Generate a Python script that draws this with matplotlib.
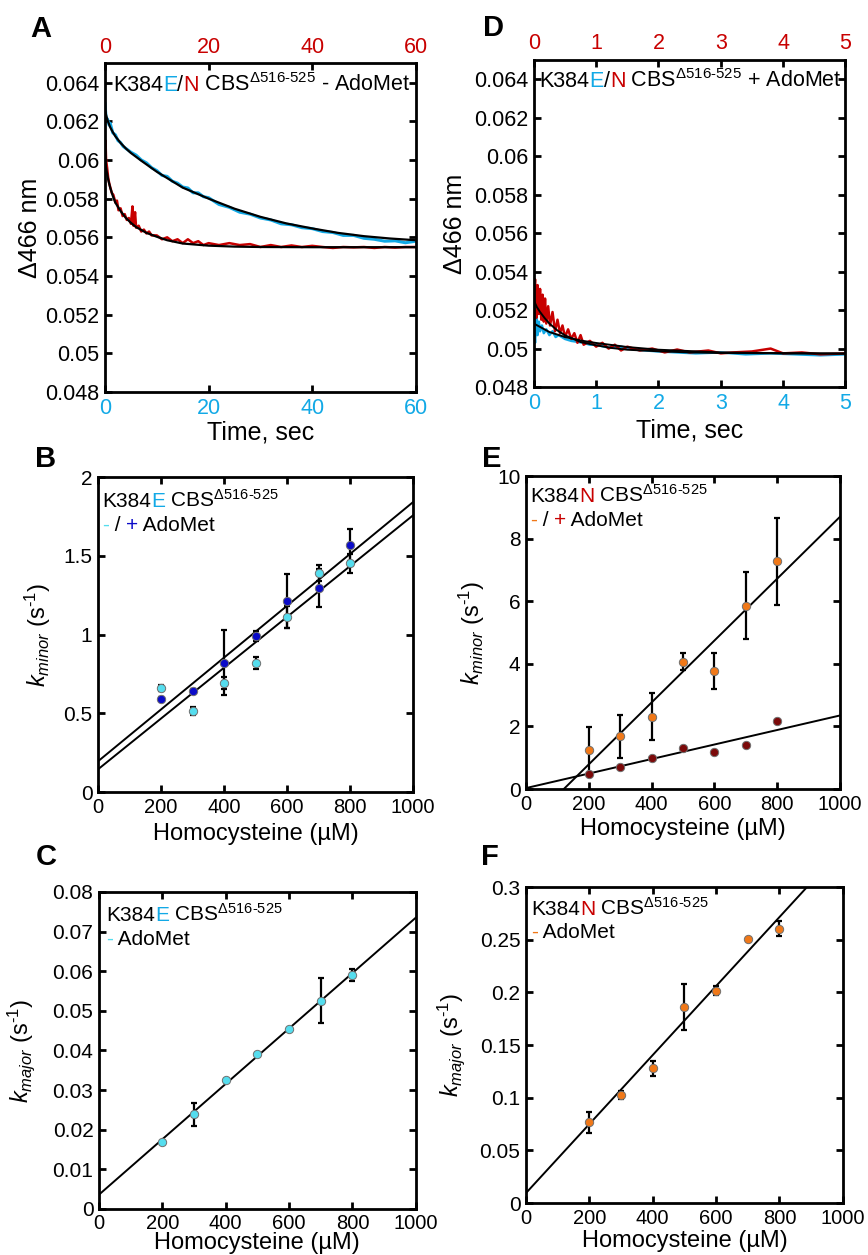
import numpy as np
import matplotlib
matplotlib.use("Agg")
import matplotlib.pyplot as plt
from matplotlib.ticker import FuncFormatter

plt.rcParams['font.family'] = 'Liberation Sans'
plt.rcParams['mathtext.fontset'] = 'custom'
plt.rcParams['mathtext.rm'] = 'Liberation Sans'
plt.rcParams['mathtext.it'] = 'Liberation Sans:italic'
plt.rcParams['mathtext.bf'] = 'Liberation Sans:bold'
plt.rcParams['axes.unicode_minus'] = False

BLUE = '#12A9E6'
RED = '#C80000'
CYAN = '#55DDEE'
NAVY = '#0B0BC8'
ORANGE = '#F07818'
MAROON = '#7B0A0A'

# ---- panel A: traces, - AdoMet (0-60 s)
a_blue_t = [0, 0.2, 0.5, 0.8, 1, 1.5, 2, 2.5, 3, 3.5, 4, 5, 6, 7, 8, 9, 10, 11, 12, 13, 14, 15,
            16, 17, 18, 19, 20, 22, 24, 26, 28, 30, 32, 34, 36, 38, 40, 42, 44, 46, 48, 50,
            52, 54, 56, 58, 60]
a_blue = [0.0629, 0.0622, 0.0621, 0.0618, 0.0619, 0.0614, 0.0613, 0.0610, 0.0609, 0.0607,
          0.0606, 0.0604, 0.06025, 0.0600, 0.05985, 0.0596, 0.05945, 0.0592, 0.05915, 0.0589,
          0.0588, 0.0586, 0.05855, 0.0583, 0.0583, 0.0581, 0.05805, 0.0577, 0.05755, 0.0573,
          0.0572, 0.0570, 0.0569, 0.0567, 0.05665, 0.0565, 0.05645, 0.0563, 0.05625, 0.0561,
          0.0561, 0.05595, 0.0559, 0.0558, 0.05582, 0.05572, 0.0558]
a_blue_fit_t = [0, 0.25, 0.5, 1, 1.5, 2, 3, 4, 5, 7, 10, 15, 20, 25, 30, 35, 40, 45, 50, 55, 60]
a_blue_fit = [0.06256, 0.06228, 0.06204, 0.06169, 0.06144, 0.06122, 0.06088, 0.0606, 0.06036,
              0.05996, 0.05939, 0.05857, 0.058, 0.05748, 0.05706, 0.05672, 0.05646, 0.05623,
              0.05606, 0.05594, 0.05585]
a_red_t = [0.0, 0.1, 0.2, 0.4, 0.6, 0.8, 1.0, 1.3, 1.6, 2.0, 2.3, 2.6, 3.0, 3.4, 3.8, 4.2, 4.6,
           5.0, 5.3, 5.5, 5.8, 6.0, 6.5, 7.0, 7.5, 8.0, 8.5, 9.0, 10, 11, 12, 13, 14, 15, 16,
           17, 18, 19, 20, 22, 24, 26, 28, 30, 32, 34, 36, 38, 40, 42, 44, 46, 48, 50, 52, 54,
           56, 58, 60]
a_red = [0.0598, 0.0610, 0.0600, 0.0596, 0.0591, 0.0588, 0.0586, 0.0583, 0.0582, 0.0578,
         0.0579, 0.0574, 0.0575, 0.0571, 0.0572, 0.0569, 0.0570, 0.0567, 0.0576, 0.0566,
         0.0573, 0.0565, 0.0566, 0.0563, 0.0564, 0.0562, 0.0563, 0.0561, 0.0561, 0.0559,
         0.0560, 0.0558, 0.0559, 0.0557, 0.0559, 0.0557, 0.0558, 0.0556, 0.0557, 0.0556,
         0.0557, 0.0556, 0.05565, 0.0555, 0.0556, 0.0555, 0.05558, 0.0555, 0.05556, 0.0555,
         0.05545, 0.0555, 0.05548, 0.0555, 0.05545, 0.0555, 0.05547, 0.0555, 0.0555]
a_red_fit_t = [0, 0.15, 0.3, 0.6, 1, 1.5, 2, 3, 4, 5, 6, 8, 10, 12, 15, 20, 25, 30, 40, 60]
a_red_fit = [0.0600, 0.0597, 0.05945, 0.059, 0.05857, 0.05814, 0.05779, 0.05736, 0.05701,
             0.05675, 0.05653, 0.05623, 0.05603, 0.05585, 0.05568, 0.05557, 0.05552, 0.0555,
             0.05549, 0.05549]

# ---- panel D: traces, + AdoMet (0-5 s)
d_red_t = [0, 0.02, 0.04, 0.06, 0.08, 0.1, 0.12, 0.14, 0.16, 0.18, 0.2, 0.23, 0.26, 0.3, 0.34,
           0.38, 0.42, 0.46, 0.5, 0.55, 0.6, 0.65, 0.7, 0.75, 0.8, 0.9, 1.0, 1.1, 1.2, 1.3, 1.4,
           1.5, 1.7, 1.9, 2.1, 2.3, 2.5, 2.8, 3.0, 3.2, 3.5, 3.8, 4.0, 4.3, 4.6, 5.0]
d_red = [0.0527, 0.0536, 0.0516, 0.0533, 0.0518, 0.0531, 0.0515, 0.0528, 0.0514, 0.0526,
         0.0513, 0.0522, 0.0512, 0.0519, 0.0509, 0.0515, 0.0508, 0.0512, 0.0506, 0.0510,
         0.0505, 0.0508, 0.0503, 0.0507, 0.0502, 0.0504, 0.0501, 0.0503, 0.0500, 0.0502,
         0.0499, 0.0501, 0.0499, 0.0500, 0.0498, 0.04995, 0.0498, 0.0499, 0.04975, 0.0498,
         0.04985, 0.0500, 0.04975, 0.0498, 0.0497, 0.04975]
d_blue_t = [0, 0.02, 0.04, 0.06, 0.08, 0.1, 0.13, 0.16, 0.2, 0.25, 0.3, 0.35, 0.4, 0.5, 0.6,
            0.7, 0.8, 0.9, 1.0, 1.2, 1.4, 1.6, 1.8, 2.0, 2.3, 2.6, 3.0, 3.4, 3.8, 4.2, 4.6, 5.0]
d_blue = [0.0512, 0.0503, 0.0516, 0.0507, 0.0514, 0.0509, 0.0512, 0.0508, 0.0510, 0.0507,
          0.0509, 0.0506, 0.0507, 0.0505, 0.0504, 0.05035, 0.0503, 0.0502, 0.0502, 0.05005,
          0.0501, 0.04995, 0.0499, 0.04985, 0.0498, 0.04975, 0.0498, 0.0497, 0.04975, 0.0497,
          0.04965, 0.0497]
d_red_fit_t = [0, 0.05, 0.1, 0.175, 0.25, 0.375, 0.5, 0.75, 1, 1.25, 1.5, 2, 2.5, 3, 4, 5]
d_red_fit = [0.0525, 0.05215, 0.0519, 0.05158, 0.0513, 0.05095, 0.05069, 0.05034, 0.05017,
             0.05003, 0.04994, 0.04986, 0.0498, 0.04977, 0.04975, 0.04974]
d_blue_fit_t = [0, 0.25, 0.5, 0.75, 1, 1.5, 2, 3, 4, 5]
d_blue_fit = [0.0513, 0.05086, 0.0506, 0.05042, 0.05029, 0.05008, 0.04994, 0.0498, 0.04976,
              0.04974]

# ---- rate constants vs homocysteine
hcy = [200, 300, 400, 500, 600, 700, 800]
fit_x = [0, 1000]

b_minus = [0.66, 0.514, 0.694, 0.82, 1.111, 1.393, 1.452]
b_minus_err = [0.02, 0.025, 0.038, 0.04, 0.07, 0.05, 0.06]
b_plus = [0.593, 0.643, 0.821, 0.99, 1.213, 1.297, 1.568]
b_plus_err = [0.01, 0.01, 0.205, 0.03, 0.17, 0.12, 0.1]
b_plus_fit = [0.195, 1.841]
b_minus_fit = [0.144, 1.757]

e_minus = [1.246, 1.68, 2.31, 4.07, 3.77, 5.86, 7.27]
e_minus_err = [0.75, 0.69, 0.75, 0.27, 0.56, 1.07, 1.4]
e_plus = [0.49, 0.71, 1.0, 1.30, 1.17, 1.41, 2.17]
e_minus_fit = [-1.19, 8.70]
e_plus_fit = [0.03, 2.35]

c_major = [0.0169, 0.0239, 0.0325, 0.0390, 0.0455, 0.0526, 0.0590]
c_err = [0, 0.0029, 0, 0, 0, 0.0058, 0.0016]
c_fit = [0.0036, 0.0735]

f_major = [0.0769, 0.1028, 0.1278, 0.186, 0.2016, 0.2506, 0.2604]
f_err = [0.010, 0.004, 0.007, 0.022, 0.004, 0.0, 0.007]
f_fit = [0.0095, 0.337]

fmt_g = FuncFormatter(lambda v, _: f'{v:g}')


def frame(ax, xticks, yticks, xsize=15, ysize=15):
    for s in ax.spines.values():
        s.set_linewidth(2)
    ax.set_xticks(xticks)
    ax.set_yticks(yticks)
    ax.xaxis.set_major_formatter(fmt_g)
    ax.yaxis.set_major_formatter(fmt_g)
    ax.tick_params(direction='in', length=5, width=2, right=True, pad=4)
    ax.tick_params(axis='x', labelsize=xsize)
    ax.tick_params(axis='y', labelsize=ysize)


def rainbow(ax, x, y, parts, size):
    t = ax.text(x, y, parts[0][0], color=parts[0][1], fontsize=size,
                transform=ax.transAxes, va='baseline')
    for s, c in parts[1:]:
        t = ax.annotate(s, xy=(1, 0), xycoords=t, va='bottom', color=c, fontsize=size)


SUP = r'$\mathrm{CBS}^{\text{Δ516-525}}$'
kminor = r'$k_{minor}$ (s$^{\text{-1}}$)'
kmajor = r'$k_{major}$ (s$^{\text{-1}}$)'

fig = plt.figure(figsize=(8.68, 12.55), dpi=100)

# A
ax = fig.add_axes([0.121, 0.6876, 0.358, 0.262])
ax.plot(a_blue_t, a_blue, color=BLUE, lw=2.2)
ax.plot(a_red_t, a_red, color=RED, lw=1.8)
ax.plot(a_blue_fit_t, a_blue_fit, color='k', lw=1.6)
ax.plot(a_red_fit_t, a_red_fit, color='k', lw=1.6)
ax.set_xlim(0, 60)
ax.set_ylim(0.048, 0.065)
frame(ax, [0, 20, 40, 60], np.arange(0.048, 0.0641, 0.002), 15.5, 15.5)
ax.tick_params(axis='x', labelcolor=BLUE)
top = ax.secondary_xaxis('top')
top.set_xticks([0, 20, 40, 60])
top.tick_params(direction='in', length=5, width=2, labelsize=15.5, labelcolor=RED, pad=4)
ax.set_xlabel('Time, sec', fontsize=18)
ax.set_ylabel('Δ466 nm', fontsize=18)
ax.xaxis.set_label_coords(0.5, -0.088)
ax.yaxis.set_label_coords(-0.203, 0.5)
rainbow(ax, 0.026, 0.915, [('K384', 'k'), ('E', BLUE), ('/', 'k'), ('N', RED),
                            (' ' + SUP + ' - AdoMet', 'k')], 15.5)

# D
ax = fig.add_axes([0.615, 0.6916, 0.359, 0.2606])
ax.plot(d_blue_t, d_blue, color=BLUE, lw=1.8)
ax.plot(d_red_t, d_red, color=RED, lw=1.8)
ax.plot(d_blue_fit_t, d_blue_fit, color='k', lw=1.4)
ax.plot(d_red_fit_t, d_red_fit, color='k', lw=1.4)
ax.set_xlim(0, 5)
ax.set_ylim(0.048, 0.065)
frame(ax, [0, 1, 2, 3, 4, 5], np.arange(0.048, 0.0641, 0.002), 15.5, 15.5)
ax.tick_params(axis='x', labelcolor=BLUE)
top = ax.secondary_xaxis('top')
top.set_xticks([0, 1, 2, 3, 4, 5])
top.tick_params(direction='in', length=5, width=2, labelsize=15.5, labelcolor=RED, pad=4)
ax.set_xlabel('Time, sec', fontsize=18)
ax.set_ylabel('Δ466 nm', fontsize=18)
ax.xaxis.set_label_coords(0.5, -0.095)
ax.yaxis.set_label_coords(-0.215, 0.5)
rainbow(ax, 0.019, 0.917, [('K384', 'k'), ('E', BLUE), ('/', 'k'), ('N', RED),
                            (' ' + SUP + ' + AdoMet', 'k')], 15.5)


def points(ax, y, err, color):
    ax.errorbar(hcy, y, yerr=err, fmt='none', ecolor='k', elinewidth=1.6,
                capsize=2.2, capthick=1.6, zorder=3)
    ax.plot(hcy, y, 'o', ms=6, mfc=color, mec='#707070', mew=0.7, zorder=4)


# B
ax = fig.add_axes([0.1129, 0.3689, 0.363, 0.251])
ax.plot(fit_x, b_plus_fit, color='k', lw=1.4)
ax.plot(fit_x, b_minus_fit, color='k', lw=1.4)
points(ax, b_minus, b_minus_err, CYAN)
points(ax, b_plus, b_plus_err, NAVY)
ax.set_xlim(0, 1000)
ax.set_ylim(0, 2)
frame(ax, [0, 200, 400, 600, 800, 1000], [0, 0.5, 1, 1.5, 2], 14.5, 15)
ax.tick_params(top=True)
ax.set_xlabel('Homocysteine (µM)', fontsize=17)
ax.set_ylabel(kminor, fontsize=17)
ax.xaxis.set_label_coords(0.5, -0.098)
ax.yaxis.set_label_coords(-0.143, 0.5)
rainbow(ax, 0.013, 0.905, [('K384', 'k'), ('E', BLUE), (' ' + SUP, 'k')], 15)
rainbow(ax, 0.013, 0.829, [('-', CYAN), (' / ', 'k'), ('+', NAVY), (' AdoMet', 'k')], 15)

# E
ax = fig.add_axes([0.606, 0.3713, 0.3618, 0.2494])
ax.plot(fit_x, e_minus_fit, color='k', lw=1.4)
ax.plot(fit_x, e_plus_fit, color='k', lw=1.4)
points(ax, e_minus, e_minus_err, ORANGE)
ax.plot(hcy, e_plus, 'o', ms=6, mfc=MAROON, mec='#707070', mew=0.7, zorder=4)
ax.set_xlim(0, 1000)
ax.set_ylim(0, 10)
frame(ax, [0, 200, 400, 600, 800, 1000], [0, 2, 4, 6, 8, 10], 14.5, 15)
ax.tick_params(top=True)
ax.set_xlabel('Homocysteine (µM)', fontsize=17)
ax.set_ylabel(kminor, fontsize=17)
ax.xaxis.set_label_coords(0.5, -0.093)
ax.yaxis.set_label_coords(-0.124, 0.5)
rainbow(ax, 0.013, 0.917, [('K384', 'k'), ('N', RED), (' ' + SUP, 'k')], 15)
rainbow(ax, 0.013, 0.840, [('-', ORANGE), (' / ', 'k'), ('+', RED), (' AdoMet', 'k')], 15)

# C
ax = fig.add_axes([0.114, 0.0367, 0.365, 0.2526])
ax.plot(fit_x, c_fit, color='k', lw=1.4)
points(ax, c_major, c_err, CYAN)
ax.set_xlim(0, 1000)
ax.set_ylim(0, 0.08)
frame(ax, [0, 200, 400, 600, 800, 1000], np.arange(0, 0.0801, 0.01), 14.5, 15)
ax.tick_params(top=True)
ax.set_xlabel('Homocysteine (µM)', fontsize=17)
ax.set_ylabel(kmajor, fontsize=17)
ax.xaxis.set_label_coords(0.5, -0.073)
ax.yaxis.set_label_coords(-0.196, 0.5)
rainbow(ax, 0.022, 0.909, [('K384', 'k'), ('E', BLUE), (' ' + SUP, 'k')], 15)
rainbow(ax, 0.022, 0.833, [('-', CYAN), (' AdoMet', 'k')], 15)

# F
ax = fig.add_axes([0.606, 0.0414, 0.365, 0.2518])
ax.plot(fit_x, f_fit, color='k', lw=1.4)
points(ax, f_major, f_err, ORANGE)
ax.set_xlim(0, 1000)
ax.set_ylim(0, 0.3)
frame(ax, [0, 200, 400, 600, 800, 1000], np.arange(0, 0.301, 0.05), 14.5, 15)
ax.tick_params(top=True)
ax.set_xlabel('Homocysteine (µM)', fontsize=17)
ax.set_ylabel(kmajor, fontsize=17)
ax.xaxis.set_label_coords(0.5, -0.085)
ax.yaxis.set_label_coords(-0.186, 0.5)
rainbow(ax, 0.016, 0.911, [('K384', 'k'), ('N', RED), (' ' + SUP, 'k')], 15)
rainbow(ax, 0.016, 0.839, [('-', ORANGE), (' AdoMet', 'k')], 15)

# panel letters
for lab, x, y in [('A', 0.047, 0.977), ('D', 0.568, 0.978), ('B', 0.052, 0.634),
                  ('E', 0.566, 0.634), ('C', 0.053, 0.317), ('F', 0.565, 0.317)]:
    fig.text(x, y, lab, fontsize=21, fontweight='bold', ha='center', va='center')

fig.savefig('out.png', dpi=100)
